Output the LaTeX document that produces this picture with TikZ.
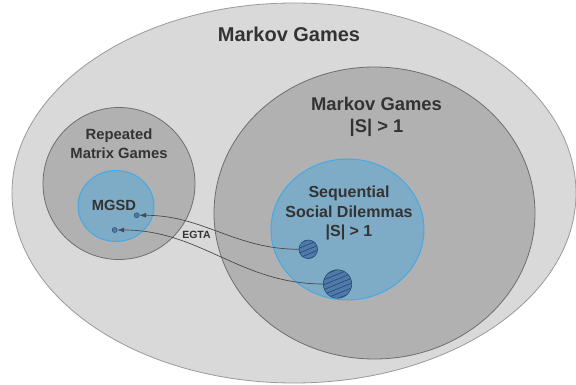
\documentclass[tikz,border=0pt]{standalone}
\usepackage{fontspec}
\setmainfont{Liberation Sans}
\usetikzlibrary{shapes.geometric,arrows.meta}
\definecolor{outerfill}{HTML}{D9D9D9}
\definecolor{outerline}{HTML}{9A9A9A}
\definecolor{midfill}{HTML}{B1B1B1}
\definecolor{midline}{HTML}{6E6E6E}
\definecolor{bluefill}{HTML}{7EABC5}
\definecolor{blueline}{HTML}{45A9E6}
\definecolor{hatchfill}{HTML}{4E7BAB}
\definecolor{hatchdark}{HTML}{2C4B70}
\definecolor{textgray}{HTML}{333333}
\definecolor{connline}{HTML}{4A4A4A}
\begin{document}
\begin{tikzpicture}[x=1pt,y=-1pt,
  region/.style={ellipse,inner sep=0pt,outer sep=0pt},
  outerreg/.style={region,fill=outerfill,draw=outerline,line width=0.8pt},
  midreg/.style={region,fill=midfill,draw=midline,line width=0.8pt},
  bluereg/.style={region,fill=bluefill,draw=blueline,line width=1pt},
  hatchreg/.style={circle,inner sep=0pt,outer sep=0pt,fill=hatchfill},
  hatchrim/.style={draw=hatchdark,line width=0.6pt},
  hatchline/.style={draw=hatchdark,line width=0.7pt},
  dotnode/.style={circle,inner sep=0pt,outer sep=0pt,minimum size=5pt,fill=hatchfill,draw=hatchdark,line width=0.5pt},
  conn/.style={draw=connline,line width=0.7pt,-{Latex[length=7pt,width=5pt]}},
  lbl/.style={text=textgray,font=\bfseries,anchor=base,inner sep=0pt}
]
\useasboundingbox (0,0) rectangle (576,385);
\fill[white] (0,0) rectangle (576,385);
% regions
\node[outerreg,minimum width=564pt,minimum height=380pt] (mg) at (294,193) {};
\node[midreg,minimum width=321pt,minimum height=292pt] (mgs) at (374.5,213) {};
\node[midreg,minimum width=152pt,minimum height=152pt] (rmg) at (119,183.5) {};
\node[bluereg,minimum width=76pt,minimum height=71pt] (mgsd) at (116,206) {};
\node[bluereg,minimum width=153pt,minimum height=141pt] (ssd) at (347.5,229.5) {};
\node[hatchreg,minimum size=18.6pt] (h1) at (308.3,249.3) {};
\node[hatchreg,minimum size=28.4pt] (h2) at (337.5,284) {};
% hatching
\begin{scope}
  \clip (h1.center) circle (9.3);
  \foreach \d in {-18,-13.5,...,18}{\draw[hatchline,shift={(h1.center)}] (0.375*\d-27.8,0.927*\d+11.25) -- ++(55.6,-22.5);}
\end{scope}
\begin{scope}
  \clip (h2.center) circle (14.2);
  \foreach \d in {-18,-13.5,...,18}{\draw[hatchline,shift={(h2.center)}] (0.375*\d-27.8,0.927*\d+11.25) -- ++(55.6,-22.5);}
\end{scope}
\draw[hatchrim] (h1.center) circle (9.3);
\draw[hatchrim] (h2.center) circle (14.2);
\node[dotnode] (d1) at (136.7,215.3) {};
\node[dotnode] (d2) at (114.7,230) {};
% connectors
\draw[conn] (h1.west) to[out=180,in=0] (d1.east);
\draw[conn] (h2.west) to[out=180,in=0] (d2.east);
% labels
\node[lbl,font=\bfseries\fontsize{20}{24}\selectfont] (t1) at (289,42) {Markov Games};
\node[lbl,font=\bfseries\fontsize{18.4}{22}\selectfont] (t2) at (376.5,110.5) {Markov Games};
\node[lbl,font=\bfseries\fontsize{18.4}{22}\selectfont] (t3) at (376.5,133) {|S| > 1};
\node[lbl,font=\bfseries\fontsize{16}{19}\selectfont] (t4) at (349,197.3) {Sequential};
\node[lbl,font=\bfseries\fontsize{16}{19}\selectfont] (t5) at (349,217.3) {Social Dilemmas};
\node[lbl,font=\bfseries\fontsize{16}{19}\selectfont] (t6) at (349,236.7) {|S| > 1};
\node[lbl,font=\bfseries\fontsize{14.8}{18}\selectfont] (t7) at (119,139.3) {Repeated};
\node[lbl,font=\bfseries\fontsize{14.8}{18}\selectfont] (t8) at (119,158.3) {Matrix Games};
\node[lbl,font=\bfseries\fontsize{14.7}{18}\selectfont] (t9) at (114,210.7) {MGSD};
\node[lbl,font=\bfseries\fontsize{10.5}{12}\selectfont] (t10) at (196.5,238) {EGTA};
\end{tikzpicture}
\end{document}
